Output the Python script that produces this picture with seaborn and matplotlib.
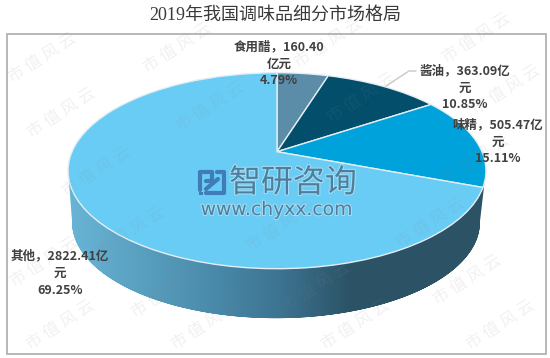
import numpy as np
import matplotlib
matplotlib.use("Agg")
import matplotlib.pyplot as plt
import matplotlib.patheffects as pe
from matplotlib.colors import LinearSegmentedColormap
from matplotlib.patches import Polygon, Rectangle
from matplotlib.transforms import Transform
import seaborn as sns

names = ["食用醋", "酱油", "味精", "其他"]
amounts = ["160.40", "363.09", "505.47", "2822.41"]
shares = [4.79, 10.85, 15.11, 69.25]
colors = ["#5b8ca8", "#024e6b", "#00a2db", "#69ccf5"]
label_lines = [("，{}\n亿元\n{}%"), ("，{}亿\n元\n{}%"), ("，{}亿\n元\n{}%"), ("，{}亿\n元\n{}%")]
label_pos = [(279, 64), (465, 88), (498, 142), (60, 273)]
side_colors = ["#69b5d6", "#4a8bab", "#3c7390", "#2b5266", "#2d5365"]
mark_pos = [(42, 58), (177, 48), (328, 43), (476, 38), (61, 113), (210, 107), (361, 98), (506, 90),
            (96, 172), (475, 160), (130, 232), (280, 227), (430, 223), (44, 262), (165, 293),
            (316, 287), (467, 280), (60, 325), (205, 325), (355, 325), (500, 325)]


# the chart is a tilted 3D pie, so the flat pie goes through a perspective map
class Tilt(Transform):
    input_dims = 2
    output_dims = 2

    def __init__(self, cx, cy, a, b, k=0.194):
        super().__init__()
        self.cx, self.cy, self.a, self.b, self.k = cx, cy, a, b, k

    def transform_non_affine(self, xy):
        xy = np.asarray(xy)
        w = 1 + self.k * xy[:, 1]
        return np.column_stack([self.cx + self.a * xy[:, 0] / w, self.cy - self.b * xy[:, 1] / w])


sns.set_theme(style="white")
plt.rcParams["font.family"] = ["Noto Sans CJK SC", "DejaVu Sans"]

fig = plt.figure(figsize=(5.5, 3.58), dpi=100)
ax = fig.add_axes([0, 0, 1, 1])

wedges, _ = ax.pie(shares, colors=sns.color_palette(colors), startangle=90, counterclock=False,
                   wedgeprops={"edgecolor": "#e4eef3", "linewidth": 1, "zorder": 3})
top = Tilt(277, 151.7, 205, 94.3)
bottom = Tilt(276, 204, 200, 92)
for w in wedges:
    w.set_transform(top + ax.transData)

# side wall between the two rims
t = np.linspace(0, 2 * np.pi, 721)
circle = np.column_stack([np.cos(t), np.sin(t)])


def front_rim(tilt):
    pts = tilt.transform(circle)
    i, j = np.argmax(pts[:, 0]), np.argmin(pts[:, 0])
    idx = np.arange(j, i + 721) % 720 if j < i else np.arange(j, i + 1)
    return pts[idx]


upper = front_rim(top)
lower = front_rim(bottom)
side = Polygon(np.vstack([upper, lower[::-1]]), closed=True, transform=ax.transData, fc="none", ec="none")
ax.add_patch(side)
cmap = LinearSegmentedColormap.from_list("side", list(zip([0, 0.34, 0.51, 0.68, 1], side_colors)))
img = ax.imshow(np.linspace(0, 1, 256)[None, :], cmap=cmap, extent=(68, 486, 330, 150), aspect="auto", zorder=1)
img.set_clip_path(side)

ax.set_aspect("auto")
ax.set_xlim(0, 550)
ax.set_ylim(358, 0)
ax.axis("off")

# frame and title
ax.add_patch(Rectangle((7, 34), 538.5, 319.5, fc="none", ec="#b2b2b2", lw=1.3, zorder=2))
ax.text(275, 15.5, "2019年我国调味品细分市场格局", ha="center", va="center", fontsize=13, color="#3a3a3a",
        family=["Liberation Serif", "Noto Sans CJK SC"], zorder=6)

# watermark
for x, y in mark_pos:
    ax.text(x, y, "市 值 风 云", rotation=33, ha="center", va="center", fontsize=12, color="#8a8a8a",
            alpha=0.12, zorder=4)

# logo
logo = "#3f7cb8"
ax.plot([200, 200, 212, 212, 206], [190, 172, 172, 181, 181], color=logo, lw=3, zorder=5)
ax.plot([217, 224, 224, 206], [172, 172, 193, 193], color=logo, lw=3, zorder=5)
ax.plot([206, 218], [189, 179], color=logo, lw=3, zorder=5)
ax.add_patch(Rectangle((199, 191.5), 3.5, 3.5, fc=logo, ec="none", zorder=5))
halo = [pe.withStroke(linewidth=1.5, foreground="#a6dcf4")]
ax.text(293, 183, "智研咨询", ha="center", va="center", fontsize=23, color="#4d7f9c", zorder=5, path_effects=halo)
ax.text(276.5, 209.5, "www.chyxx.com", ha="center", va="center", fontsize=13.5, color="#4d7f9c", zorder=5,
        family="DejaVu Sans", path_effects=halo)

# leader line of the soy sauce label
ax.plot([386, 409, 416], [86, 71, 71], color="#c8c8c8", lw=1, zorder=5)

for name, amount, share, fmt, (x, y) in zip(names, amounts, shares, label_lines, label_pos):
    ax.text(x, y, name + fmt.format(amount, f"{share:.2f}"), ha="center", va="center", multialignment="center",
            fontsize=9, fontweight="bold", color="#404040", linespacing=1.4, zorder=7)

fig.savefig("out.png", dpi=100)
